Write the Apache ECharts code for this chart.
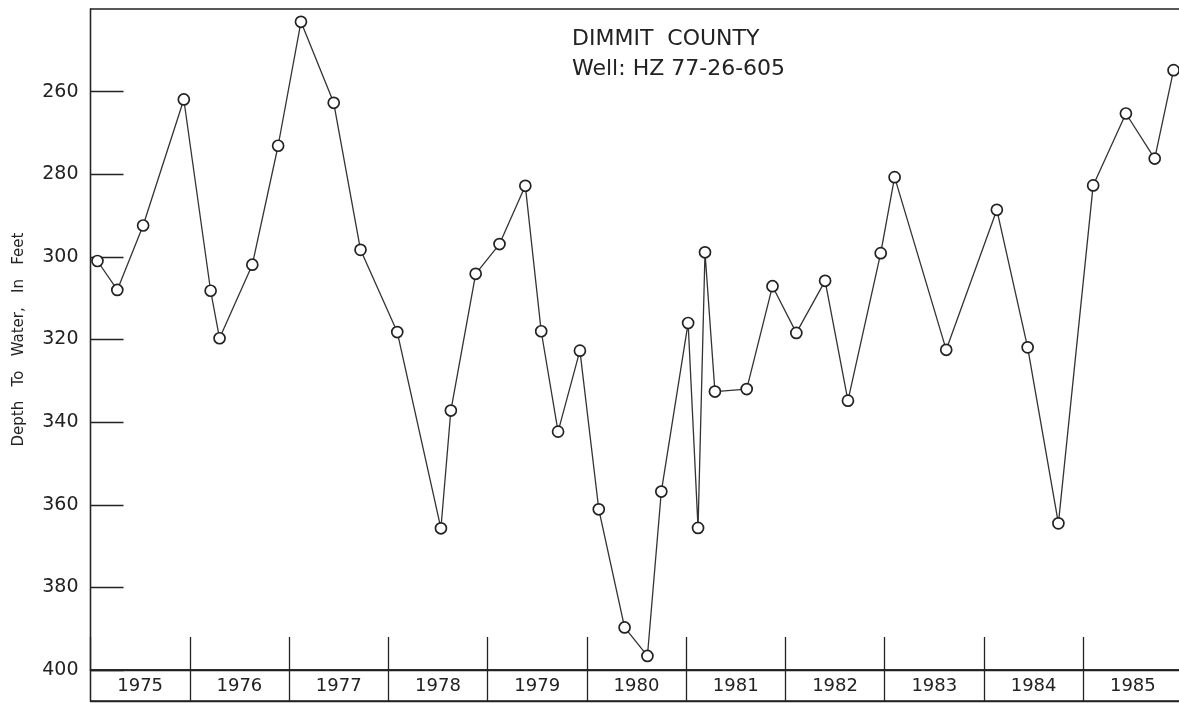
<!DOCTYPE html>
<html>
<head>
<meta charset="utf-8">
<script src="https://cdn.jsdelivr.net/npm/echarts@6/dist/echarts.min.js"></script>
<style>
html,body{margin:0;padding:0;background:#fff;}
#chart{width:1179px;height:703px;}
</style>
</head>
<body>
<div id="chart"></div>
<script>
// Decimal-year dates of measurements
var dates = [1975.07,1975.27,1975.53,1975.94,1976.21,1976.30,1976.63,1976.89,1977.12,1977.45,
  1977.72,1978.09,1978.53,1978.63,1978.88,1979.12,1979.38,1979.54,1979.71,1979.93,
  1980.12,1980.38,1980.61,1980.75,1981.02,1981.12,1981.19,1981.29,1981.61,1981.87,
  1982.11,1982.40,1982.63,1982.96,1983.10,1983.62,1984.13,1984.44,1984.75,1985.10,
  1985.43,1985.72,1985.91];
// Depth to water, feet
var depths = [301.0,308.0,292.4,261.9,308.2,319.7,301.9,273.1,243.1,262.7,
  298.3,318.2,365.7,337.2,304.1,296.9,282.8,318.0,342.3,322.7,
  361.1,389.7,396.6,356.8,316.0,365.6,298.9,332.6,332.0,307.1,
  318.4,305.8,334.8,299.1,280.7,322.5,288.6,321.9,364.5,282.7,
  265.3,276.2,254.8];
var years = ['1975','1976','1977','1978','1979','1980','1981','1982','1983','1984','1985'];
var titleText = 'DIMMIT  COUNTY';
var subText = 'Well: HZ 77-26-605';
var yName = 'Depth   To   Water,   In   Feet';

var ink = '#222';
var font = 'DejaVu Sans';
var points = dates.map(function(d,i){ return [d, depths[i]]; });

var chart = echarts.init(document.getElementById('chart'), null, {renderer:'canvas'});
chart.setOption({
  backgroundColor:'#fff',
  animation:false,
  title:{
    text: titleText + '\n' + subText,
    left: 567, top: 19,
    textStyle:{fontFamily:font,fontSize:22,fontWeight:'normal',color:ink,lineHeight:30}
  },
  grid:[
    {left:90.5, top:9, width:1092, height:661, show:true, borderColor:ink, borderWidth:1.3, outerBoundsMode:'none', containLabel:false},
    {left:90.5, top:670, width:1092, height:31, show:true, borderColor:ink, borderWidth:1.3, outerBoundsMode:'none', containLabel:false}
  ],
  xAxis:[
    {type:'value', gridIndex:0, min:1975, max:1986, interval:1,
     axisLine:{show:true, lineStyle:{color:ink,width:1.3}},
     axisTick:{show:true, inside:true, length:33, lineStyle:{color:ink,width:1.3}},
     axisLabel:{show:false}, splitLine:{show:false}},
    {type:'category', gridIndex:1, data:years, boundaryGap:true, position:'bottom',
     axisLine:{show:true, lineStyle:{color:ink,width:1.3}},
     axisTick:{show:false},
     splitLine:{show:true, lineStyle:{color:ink,width:1.3}},
     axisLabel:{inside:true, margin:15, verticalAlign:'middle', fontFamily:font, fontSize:18, color:ink}}
  ],
  yAxis:[
    {type:'value', gridIndex:0, inverse:true, min:240, max:400, interval:20,
     name:yName, nameLocation:'middle', nameRotate:90, nameGap:64,
     nameTextStyle:{fontFamily:font,fontSize:15,color:ink},
     axisLine:{show:true, lineStyle:{color:ink,width:1.3}},
     axisTick:{show:true, inside:true, length:33, lineStyle:{color:ink,width:1.3}},
     axisLabel:{showMinLabel:false, margin:12, fontFamily:font, fontSize:19, color:ink},
     splitLine:{show:false}},
    {type:'value', gridIndex:1, show:false}
  ],
  series:[{
    type:'line', xAxisIndex:0, yAxisIndex:0, data:points,
    symbol:'circle', symbolSize:11,
    lineStyle:{color:'#333', width:1.3},
    itemStyle:{color:'#fff', borderColor:'#222', borderWidth:1.7},
    clip:false
  }]
});
</script>
</body>
</html>
